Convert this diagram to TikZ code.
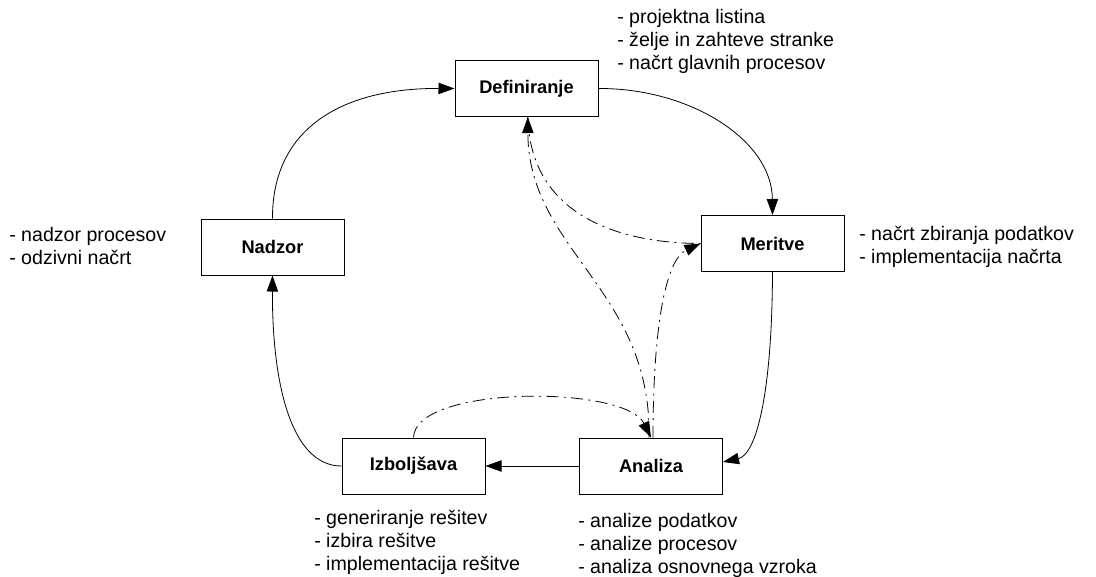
\documentclass[tikz,border=0pt]{standalone}
\usepackage{fontspec}
\setmainfont{Liberation Sans}
\usetikzlibrary{arrows.meta}
\newcommand{\lstfnt}{\fontsize{14.7}{17.3}\selectfont}
\begin{document}
\begin{tikzpicture}[x=0.75pt,y=-0.75pt,
  box/.style={draw=black, line width=0.75pt, minimum width=107.25pt, minimum height=42pt, inner sep=0pt, font=\fontsize{13.7}{16}\selectfont\bfseries},
  tip/.style={-{Triangle[length=12pt,width=8.5pt]}},
  flow/.style={line width=0.6pt, tip},
  dd/.style={line width=0.6pt, dash pattern=on 9pt off 4pt on 1.5pt off 4pt},
  lst/.style={anchor=base west, inner sep=0pt, font=\lstfnt}]
\useasboundingbox (0,0) rectangle (1096,576);
% boxes
\node[box] (def) at (526.5,88.5) {Definiranje};
\node[box] (mer) at (772.5,243.5) {Meritve};
\node[box] (ana) at (651,466) {Analiza};
\node[box] (izb) at (413.5,466) {Izboljšava};
\node[box] (nad) at (272.5,247) {Nadzor};
% lists
\node[lst] (ldef) at (617,23) {\begin{tabular}[t]{@{}l@{}}- projektna listina\\- želje in zahteve stranke\\- načrt glavnih procesov\end{tabular}};
\node[lst] (lmer) at (859,240) {\begin{tabular}[t]{@{}l@{}}- načrt zbiranja podatkov\\- implementacija načrta\end{tabular}};
\node[lst] (lnad) at (9,241) {\begin{tabular}[t]{@{}l@{}}- nadzor procesov\\- odzivni načrt\end{tabular}};
\node[lst] (lizb) at (314,524) {\begin{tabular}[t]{@{}l@{}}- generiranje rešitev\\- izbira rešitve\\- implementacija rešitve\end{tabular}};
\node[lst] (lana) at (578,527) {\begin{tabular}[t]{@{}l@{}}- analize podatkov\\- analize procesov\\- analiza osnovnega vzroka\end{tabular}};
% main cycle
\draw[flow] (def.east) .. controls (690,88) and (772,140) .. (mer.north);
\draw[flow] (mer.south) .. controls (772,400) and (755,455) .. ([yshift=3pt]ana.east);
\draw[flow] (ana.west) -- (izb.east);
\draw[flow] (izb.west) .. controls (290,466) and (272,380) .. (nad.south);
\draw[flow] (nad.north) .. controls (272,130) and (340,88) .. (def.west);
% dash-dot feedback
\draw[dd] ([xshift=1pt]def.south) .. controls (530,210) and (610,243) .. (mer.west);
\draw[dd, tip] ([xshift=-1.5pt]ana.north) .. controls (652,290) and (528,250) .. ([xshift=1pt]def.south);
\draw[dd, tip] ([xshift=1.5pt]ana.north) .. controls (653,330) and (665,260) .. (mer.west);
\draw[dd, tip] (izb.north) .. controls (415,385) and (625,385) .. (ana.north);
\end{tikzpicture}
\end{document}
